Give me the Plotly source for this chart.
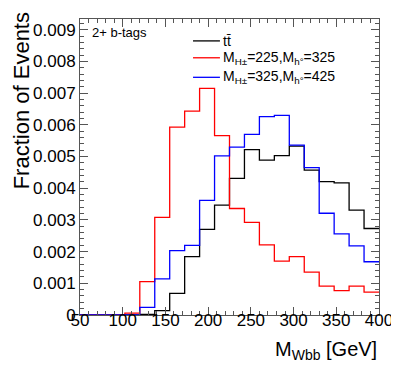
import plotly.graph_objects as go

# M_Wbb histogram, 20 bins between 50 and 400 GeV
bin_edges = [50, 67.5, 85, 102.5, 120, 137.5, 155, 172.5, 190, 207.5, 225,
             242.5, 260, 277.5, 295, 312.5, 330, 347.5, 365, 382.5, 400]

ttbar = [0, 0, 0, 0, 0.00002, 0.00014, 0.00068, 0.00184, 0.00270, 0.00347,
         0.00431, 0.00522, 0.00489, 0.00503, 0.00533, 0.00457, 0.00421, 0.00417,
         0.00331, 0.00273]
sig_225_325 = [0, 0, 0, 0.00006, 0.00105, 0.00308, 0.00593, 0.00643, 0.00715, 0.00566,
               0.00336, 0.00292, 0.00221, 0.00170, 0.00184, 0.00135, 0.00091, 0.00077,
               0.00091, 0.00072]
sig_325_425 = [0, 0, 0, 0, 0.00024, 0.00114, 0.00203, 0.00220, 0.00362, 0.00502,
               0.00530, 0.00570, 0.00626, 0.00630, 0.00536, 0.00465, 0.00321, 0.00256,
               0.00218, 0.00168]

series_names = ["tt\u0304",
                "M<sub>H\u00b1</sub>=225,M<sub>h\u00b0</sub>=325",
                "M<sub>H\u00b1</sub>=325,M<sub>h\u00b0</sub>=425"]
series_colors = ["#000000", "#ff0000", "#0000ff"]

x_ticks = [50, 100, 150, 200, 250, 300, 350, 400]
y_ticks = [0, 0.001, 0.002, 0.003, 0.004, 0.005, 0.006, 0.007, 0.008, 0.009]
y_ticktext = ["0", "0.001", "0.002", "0.003", "0.004", "0.005", "0.006", "0.007", "0.008", "0.009"]

FONT = "Liberation Sans, Arial, Helvetica, sans-serif"
AXIS_COL = "#555555"
# the page body keeps its default 8px margin, so the figure is shrunk by that much
PAGE_PAD = 8

fig = go.Figure()
for name, vals, col in zip(series_names, [ttbar, sig_225_325, sig_325_425], series_colors):
    fig.add_trace(go.Scatter(
        x=bin_edges,
        y=vals + [vals[-1]],
        mode="lines",
        line=dict(shape="hv", color=col, width=1.3),
        name=name,
        showlegend=False,
    ))

fig.update_layout(
    width=399 - PAGE_PAD,
    height=375 - PAGE_PAD,
    margin=dict(l=80 - PAGE_PAD, r=20, t=19 - PAGE_PAD, b=60, autoexpand=False),
    paper_bgcolor="white",
    plot_bgcolor="white",
    font=dict(family=FONT, color="black"),
)

fig.update_xaxes(
    range=[50, 400],
    tickvals=x_ticks,
    ticks="inside", ticklen=8, tickwidth=1, tickcolor=AXIS_COL,
    minor=dict(dtick=10, tick0=50, ticks="inside", ticklen=4, tickcolor=AXIS_COL),
    showline=True, linecolor=AXIS_COL, linewidth=1, mirror="allticks",
    showgrid=False, zeroline=False,
    tickfont=dict(size=17),
    ticklabelstandoff=-10,
)
fig.update_yaxes(
    range=[0, 0.00934],
    tickvals=y_ticks, ticktext=y_ticktext,
    ticks="inside", ticklen=8, tickwidth=1, tickcolor=AXIS_COL,
    minor=dict(dtick=0.0002, tick0=0, ticks="inside", ticklen=4, tickcolor=AXIS_COL),
    showline=True, linecolor=AXIS_COL, linewidth=1, mirror="allticks",
    showgrid=False, zeroline=False,
    tickfont=dict(size=17),
)

# hand-made legend in the ROOT style (line key + label)
legend_y = [0.926, 0.869, 0.803]
for name, col, ly in zip(series_names, series_colors, legend_y):
    fig.add_shape(type="line", xref="paper", yref="paper",
                  x0=0.378, x1=0.468, y0=ly, y1=ly,
                  line=dict(color=col, width=1.3))
    fig.add_annotation(text=name, xref="paper", yref="paper",
                       x=0.47, y=ly, xanchor="left", yanchor="middle",
                       showarrow=False, font=dict(size=14))

fig.add_annotation(
    text="Fraction of Events", textangle=-90,
    xref="paper", yref="paper", x=-0.195, y=1.03,
    xanchor="center", yanchor="top", showarrow=False,
    font=dict(size=22),
)
fig.add_annotation(
    text="M<sub>Wbb</sub> [GeV]",
    xref="paper", yref="paper", x=1.0, y=-0.12,
    xanchor="right", yanchor="middle", showarrow=False,
    font=dict(size=20),
)
fig.add_annotation(
    text="2+ b-tags",
    xref="paper", yref="paper", x=0.033, y=0.956,
    xanchor="left", yanchor="middle", showarrow=False,
    font=dict(size=13),
)

fig.write_html("out.html")
